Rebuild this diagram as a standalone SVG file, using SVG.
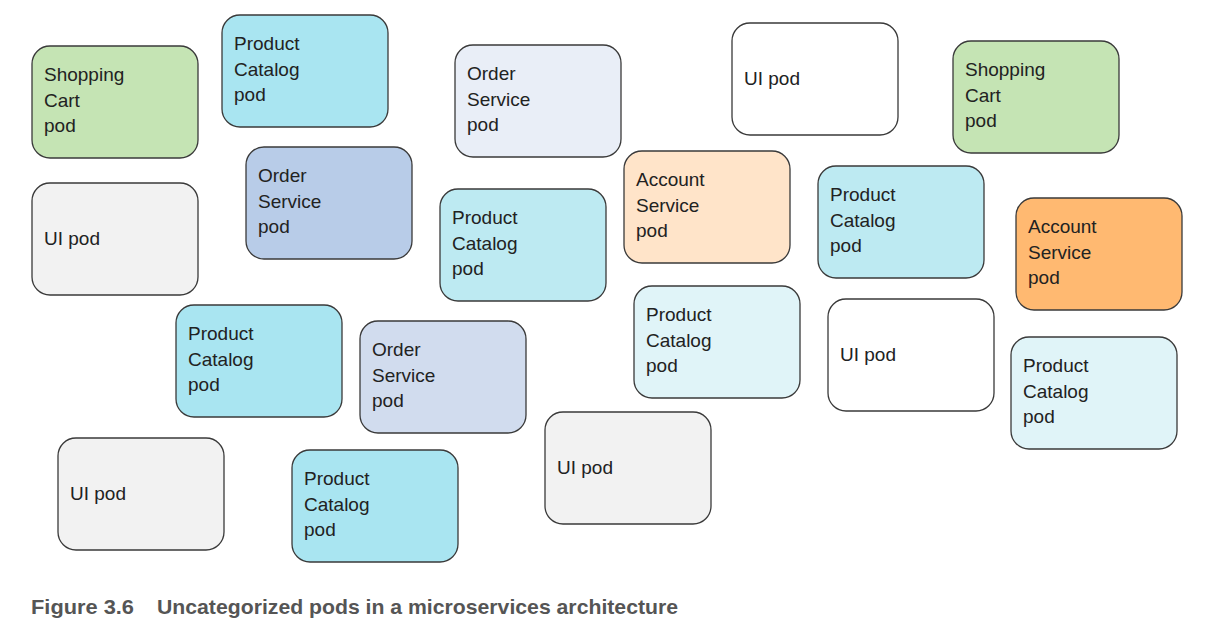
<svg xmlns="http://www.w3.org/2000/svg" width="1230" height="622" viewBox="0 0 1230 622">
<style>
.b{stroke:#3a3a3a;stroke-width:1.3}
.t{font-family:"Liberation Sans",Arial,sans-serif;font-size:19px;fill:#222}
.cap{font-family:"Liberation Sans Narrow","Liberation Sans",Arial,sans-serif;font-size:21px;font-weight:bold;fill:#555}
.g{fill:#C5E4B4}.pc{fill:#A9E5F1}.pc2{fill:#BDEAF2}.pc3{fill:#E0F4F8}
.os1{fill:#E9EEF7}.os2{fill:#B8CCE8}.os3{fill:#D1DCEE}
.w{fill:#FFFFFF}.gr{fill:#F2F2F2}.a1{fill:#FFE4C9}.a2{fill:#FFB971}
</style>
<rect width="1230" height="622" fill="#fff"/>
<g id="connectors"/>
<g id="n1"><rect class="b g" x="32" y="46" width="166" height="112" rx="18"/><text class="t" x="44" y="81">Shopping</text><text class="t" x="44" y="107">Cart</text><text class="t" x="44" y="132">pod</text></g>
<g id="n2"><rect class="b pc" x="222" y="15" width="166" height="112" rx="18"/><text class="t" x="234" y="50">Product</text><text class="t" x="234" y="76">Catalog</text><text class="t" x="234" y="101">pod</text></g>
<g id="n3"><rect class="b os1" x="455" y="45" width="166" height="112" rx="18"/><text class="t" x="467" y="80">Order</text><text class="t" x="467" y="106">Service</text><text class="t" x="467" y="131">pod</text></g>
<g id="n4"><rect class="b w" x="732" y="23" width="166" height="112" rx="18"/><text class="t" x="744" y="85">UI pod</text></g>
<g id="n5"><rect class="b g" x="953" y="41" width="166" height="112" rx="18"/><text class="t" x="965" y="76">Shopping</text><text class="t" x="965" y="102">Cart</text><text class="t" x="965" y="127">pod</text></g>
<g id="n6"><rect class="b gr" x="32" y="183" width="166" height="112" rx="18"/><text class="t" x="44" y="245">UI pod</text></g>
<g id="n7"><rect class="b os2" x="246" y="147" width="166" height="112" rx="18"/><text class="t" x="258" y="182">Order</text><text class="t" x="258" y="208">Service</text><text class="t" x="258" y="233">pod</text></g>
<g id="n8"><rect class="b pc2" x="440" y="189" width="166" height="112" rx="18"/><text class="t" x="452" y="224">Product</text><text class="t" x="452" y="250">Catalog</text><text class="t" x="452" y="275">pod</text></g>
<g id="n9"><rect class="b a1" x="624" y="151" width="166" height="112" rx="18"/><text class="t" x="636" y="186">Account</text><text class="t" x="636" y="212">Service</text><text class="t" x="636" y="237">pod</text></g>
<g id="n10"><rect class="b pc2" x="818" y="166" width="166" height="112" rx="18"/><text class="t" x="830" y="201">Product</text><text class="t" x="830" y="227">Catalog</text><text class="t" x="830" y="252">pod</text></g>
<g id="n11"><rect class="b a2" x="1016" y="198" width="166" height="112" rx="18"/><text class="t" x="1028" y="233">Account</text><text class="t" x="1028" y="259">Service</text><text class="t" x="1028" y="284">pod</text></g>
<g id="n12"><rect class="b pc" x="176" y="305" width="166" height="112" rx="18"/><text class="t" x="188" y="340">Product</text><text class="t" x="188" y="366">Catalog</text><text class="t" x="188" y="391">pod</text></g>
<g id="n13"><rect class="b os3" x="360" y="321" width="166" height="112" rx="18"/><text class="t" x="372" y="356">Order</text><text class="t" x="372" y="382">Service</text><text class="t" x="372" y="407">pod</text></g>
<g id="n14"><rect class="b pc3" x="634" y="286" width="166" height="112" rx="18"/><text class="t" x="646" y="321">Product</text><text class="t" x="646" y="347">Catalog</text><text class="t" x="646" y="372">pod</text></g>
<g id="n15"><rect class="b w" x="828" y="299" width="166" height="112" rx="18"/><text class="t" x="840" y="361">UI pod</text></g>
<g id="n16"><rect class="b pc3" x="1011" y="337" width="166" height="112" rx="18"/><text class="t" x="1023" y="372">Product</text><text class="t" x="1023" y="398">Catalog</text><text class="t" x="1023" y="423">pod</text></g>
<g id="n17"><rect class="b gr" x="58" y="438" width="166" height="112" rx="18"/><text class="t" x="70" y="500">UI pod</text></g>
<g id="n18"><rect class="b pc" x="292" y="450" width="166" height="112" rx="18"/><text class="t" x="304" y="485">Product</text><text class="t" x="304" y="511">Catalog</text><text class="t" x="304" y="536">pod</text></g>
<g id="n19"><rect class="b gr" x="545" y="412" width="166" height="112" rx="18"/><text class="t" x="557" y="474">UI pod</text></g>
<text class="cap" x="31" y="614" textLength="103" lengthAdjust="spacingAndGlyphs">Figure 3.6</text>
<text class="cap" x="157" y="614" textLength="521" lengthAdjust="spacingAndGlyphs">Uncategorized pods in a microservices architecture</text>
</svg>
